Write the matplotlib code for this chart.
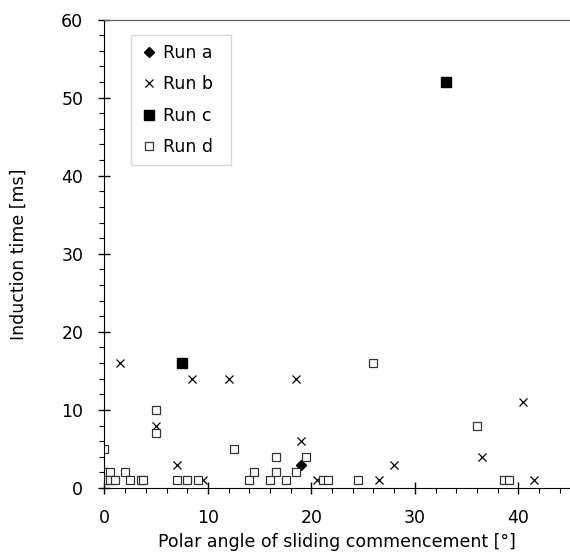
import matplotlib.pyplot as plt
from matplotlib.ticker import MultipleLocator

# data: polar angle [deg], induction time [ms]
run_a_x = [19.0]
run_a_y = [3]

run_b_x = [1.5, 8.5, 12.0, 18.5, 5.0, 19.0, 7.0, 9.5, 20.5, 26.5, 28.0, 36.5, 40.5, 41.5]
run_b_y = [16, 14, 14, 14, 8, 6, 3, 1, 1, 1, 3, 4, 11, 1]

run_c_x = [7.5, 33.0]
run_c_y = [16, 52]

run_d_x = [0.0, 0.0, 0.5, 0.0, 0.5, 1.0, 2.0, 2.5, 3.5, 3.7, 5.0, 5.0, 7.0, 8.0, 9.0,
           12.5, 14.0, 14.5, 16.0, 16.6, 16.6, 17.5, 18.5, 19.5, 21.1, 21.6, 24.5,
           26.0, 36.0, 38.6, 39.1]
run_d_y = [5, 2, 2, 1, 1, 1, 2, 1, 1, 1, 10, 7, 1, 1, 1,
           5, 1, 2, 1, 2, 4, 1, 2, 4, 1, 1, 1,
           16, 8, 1, 1]

plt.rcParams['font.family'] = ['DejaVu Sans']
plt.rcParams['font.size'] = 12.5

fig = plt.figure(figsize=(5.7, 5.59), dpi=100)
ax = fig.add_axes([0.1833, 0.127, 0.8167, 0.838])

ax.plot(run_a_x, run_a_y, 'D', color='black', ms=5, label='Run a')
ax.plot(run_b_x, run_b_y, 'x', color='black', ms=6, mew=0.9, label='Run b')
ax.plot(run_c_x, run_c_y, 's', color='black', ms=7, label='Run c')
ax.plot(run_d_x, run_d_y, 's', mfc='white', mec='#333333', ms=5.6, mew=0.9, label='Run d')

ax.set_xlim(0, 45)
ax.set_ylim(0, 60)
ax.xaxis.set_major_locator(MultipleLocator(10))
ax.xaxis.set_minor_locator(MultipleLocator(2))
ax.yaxis.set_major_locator(MultipleLocator(10))
ax.yaxis.set_minor_locator(MultipleLocator(2))
ax.tick_params(which='major', direction='inout', length=8.5, width=1, pad=11)
ax.tick_params(which='minor', direction='out', length=3.6, width=0.8)

ax.spines['right'].set_visible(False)
ax.spines['top'].set_linestyle((0, (1, 1)))
ax.spines['top'].set_color('#666666')
ax.spines['top'].set_linewidth(0.9)

ax.set_xlabel('Polar angle of sliding commencement [°]', labelpad=4)
ax.set_ylabel('Induction time [ms]', labelpad=24)

leg = ax.legend(loc='upper left', bbox_to_anchor=(0.058, 0.0, 0.213, 0.967), mode='expand',
                frameon=True, fancybox=False,
                edgecolor='#cccccc', handlelength=1.0, handletextpad=0.3,
                labelspacing=0.78, borderpad=0.5, borderaxespad=0)
leg.get_frame().set_linewidth(1)

fig.savefig('out.png', dpi=100)
